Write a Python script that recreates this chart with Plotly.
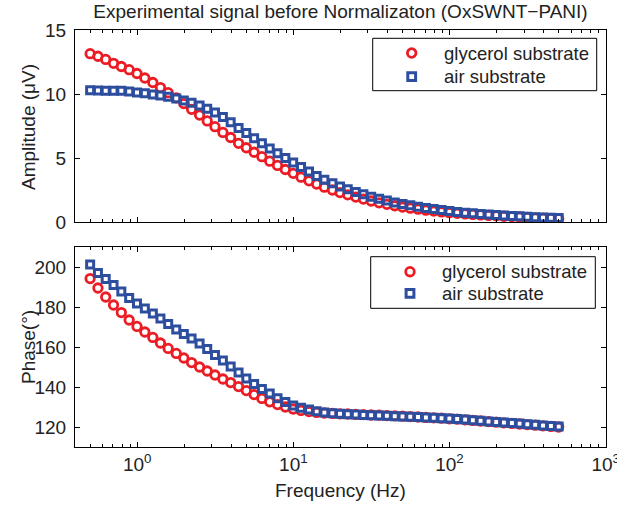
import math
import plotly.graph_objects as go

# ---------------- data ----------------
freq = [0.5, 0.561, 0.629, 0.706, 0.792, 0.889, 0.998, 1.12, 1.26, 1.41,
        1.58, 1.78, 1.99, 2.23, 2.51, 2.81, 3.15, 3.54, 3.97, 4.46,
        5.0, 5.61, 6.29, 7.06, 7.92, 8.89, 9.98, 11.2, 12.6, 14.1,
        15.8, 17.8, 19.9, 22.3, 25.1, 28.1, 31.5, 35.4, 39.7, 44.6,
        50.0, 56.1, 62.9, 70.6, 79.2, 88.9, 99.8, 112, 126, 141,
        158, 178, 199, 223, 251, 281, 315, 354, 397, 446, 500]

amp_glycerol = [13.15, 12.95, 12.7, 12.4, 12.15, 11.9, 11.6, 11.25, 10.9, 10.5,
                10.1, 9.7, 9.25, 8.8, 8.35, 7.9, 7.45, 7.0, 6.6, 6.15,
                5.8, 5.45, 5.1, 4.75, 4.42, 4.1, 3.8, 3.5, 3.22, 2.96,
                2.72, 2.5, 2.3, 2.12, 1.95, 1.79, 1.64, 1.5, 1.38, 1.27,
                1.17, 1.08, 1.0, 0.92, 0.85, 0.79, 0.73, 0.68, 0.63, 0.59,
                0.55, 0.51, 0.48, 0.45, 0.42, 0.39, 0.36, 0.33, 0.31, 0.28, 0.26]

amp_air = [10.3, 10.28, 10.26, 10.26, 10.25, 10.2, 10.12, 10.05, 9.97, 9.88,
           9.78, 9.65, 9.5, 9.32, 9.1, 8.85, 8.55, 8.2, 7.8, 7.35,
           6.95, 6.55, 6.15, 5.75, 5.38, 5.0, 4.65, 4.3, 3.95, 3.6,
           3.3, 3.02, 2.78, 2.56, 2.35, 2.16, 1.98, 1.82, 1.67, 1.53,
           1.41, 1.3, 1.19, 1.1, 1.01, 0.93, 0.86, 0.79, 0.73, 0.68,
           0.63, 0.58, 0.54, 0.5, 0.47, 0.44, 0.41, 0.38, 0.35, 0.33, 0.31]

phase_glycerol = [194.2, 189.5, 185.0, 181.0, 177.2, 173.5, 170.3, 167.5, 164.8, 162.0,
                  159.3, 156.8, 154.5, 152.2, 150.0, 148.0, 146.0, 144.0, 142.2, 140.2,
                  138.2, 136.2, 134.3, 132.6, 131.2, 130.0, 129.0, 128.3, 127.7, 127.3,
                  127.0, 126.8, 126.6, 126.5, 126.3, 126.2, 126.0, 125.9, 125.7, 125.6,
                  125.4, 125.2, 125.0, 124.8, 124.6, 124.4, 124.1, 123.9, 123.6, 123.3,
                  123.0, 122.7, 122.4, 122.1, 121.8, 121.5, 121.2, 120.9, 120.6, 120.3, 120.0]

phase_air = [201.3, 197.0, 194.0, 191.0, 187.7, 184.5, 181.8, 179.2, 176.7, 174.2,
             171.5, 168.8, 166.5, 164.2, 161.7, 159.0, 156.0, 153.2, 150.2, 147.2,
             144.2, 141.5, 139.0, 136.7, 134.4, 132.5, 130.8, 129.6, 128.7, 127.9,
             127.3, 126.9, 126.6, 126.4, 126.2, 126.0, 125.9, 125.7, 125.6, 125.4,
             125.3, 125.1, 125.0, 124.8, 124.6, 124.4, 124.2, 124.0, 123.7, 123.4,
             123.1, 122.8, 122.5, 122.3, 122.0, 121.7, 121.4, 121.1, 120.8, 120.5, 120.3]

x_tickvals = [1, 10, 100, 1000]
x_ticktext = ["10<sup>0</sup>", "10<sup>1</sup>", "10<sup>2</sup>", "10<sup>3</sup>"]
amp_ticks = [0, 5, 10, 15]
phase_ticks = [120, 140, 160, 180, 200]

series_names = ["glycerol substrate", "air substrate"]
title_text = "Experimental signal before Normalizaton (OxSWNT\u2212PANI)"

# ---------------- style ----------------
RED = "#EC1C24"
BLUE = "#2D4E9F"
TXT = "#222222"
FONT = "Liberation Sans, Arial, Helvetica, sans-serif"
FS = 19

# plot area in pixels
L, R, T, B = 75, 606, 30, 447
W_PA, H_PA = R - L, B - T


def px(xp):
    return (xp - L) / W_PA


def py(yp):
    return (B - yp) / H_PA


red_marker = dict(symbol="circle-open", size=8.5, color=RED, line=dict(width=2.8, color=RED))
blue_marker = dict(symbol="square-open", size=7, color=BLUE, line=dict(width=3, color=BLUE))

fig = go.Figure()
fig.add_trace(go.Scatter(x=freq, y=amp_glycerol, mode="markers", name=series_names[0],
                         marker=red_marker, xaxis="x", yaxis="y"))
fig.add_trace(go.Scatter(x=freq, y=amp_air, mode="markers", name=series_names[1],
                         marker=blue_marker, xaxis="x", yaxis="y"))
fig.add_trace(go.Scatter(x=freq, y=phase_glycerol, mode="markers", name=series_names[0],
                         marker=red_marker, xaxis="x2", yaxis="y2"))
fig.add_trace(go.Scatter(x=freq, y=phase_air, mode="markers", name=series_names[1],
                         marker=blue_marker, xaxis="x2", yaxis="y2"))

common_axis = dict(showline=True, linecolor="black", linewidth=1, mirror="allticks",
                   ticks="inside", ticklen=5, tickcolor="black", showgrid=False,
                   zeroline=False, automargin=False,
                   tickfont=dict(size=FS, family=FONT, color=TXT))
minor = dict(ticks="inside", ticklen=3, tickcolor="black", dtick="D1", showgrid=False)

xrange = [math.log10(0.4), 3.002]

fig.update_layout(
    width=617, height=508,
    margin=dict(l=L, r=617 - R, t=T, b=508 - B, autoexpand=False),
    paper_bgcolor="white", plot_bgcolor="white",
    font=dict(family=FONT, size=FS, color=TXT),
    showlegend=False,
    title=dict(text=title_text, x=0.5, xref="paper", xanchor="center",
               y=1 - 11 / 508, yref="container", yanchor="middle",
               font=dict(size=FS, family=FONT, color=TXT)),
    xaxis=dict(type="log", range=xrange, domain=[0, 1], anchor="y",
               tickvals=x_tickvals, showticklabels=False, minor=minor, **common_axis),
    yaxis=dict(domain=[py(222), 1], range=[0, 15], tickvals=amp_ticks, anchor="x",
               ticklabelstandoff=4, **common_axis),
    xaxis2=dict(type="log", range=xrange, domain=[0, 1], anchor="y2",
                tickvals=x_tickvals, ticktext=x_ticktext, minor=minor,
                ticklabeloverflow="allow", **common_axis),
    yaxis2=dict(domain=[0, py(247)], range=[110, 210], tickvals=phase_ticks, anchor="x2",
                ticklabelstandoff=4, **common_axis),
)

# axis titles
fig.add_annotation(text="Amplitude (\u03bcV)", xref="paper", yref="paper",
                   x=px(28), y=py(127), textangle=-90,
                   showarrow=False, xanchor="center", yanchor="middle",
                   font=dict(size=FS, family=FONT, color=TXT))
fig.add_annotation(text="Phase(\u00b0)", xref="paper", yref="paper",
                   x=px(28), y=py(347), textangle=-90,
                   showarrow=False, xanchor="center", yanchor="middle",
                   font=dict(size=FS, family=FONT, color=TXT))
fig.add_annotation(text="Frequency (Hz)", xref="paper", yref="paper",
                   x=0.5, y=py(490),
                   showarrow=False, xanchor="center", yanchor="middle",
                   font=dict(size=FS, family=FONT, color=TXT))


# legends (MATLAB-style boxed legend drawn as layout shapes + text)
def add_legend(box, key_x, row_y, text_x):
    x0, y0, x1, y1 = box
    fig.add_shape(type="rect", xref="paper", yref="paper",
                  x0=px(x0), x1=px(x1), y0=py(y1), y1=py(y0),
                  line=dict(color="black", width=1), fillcolor="white", layer="above")
    rc, rs = 4.3, 3.9
    fig.add_shape(type="circle", xref="paper", yref="paper",
                  x0=px(key_x - rc), x1=px(key_x + rc),
                  y0=py(row_y[0] + rc), y1=py(row_y[0] - rc),
                  line=dict(color=RED, width=2.8), layer="above")
    fig.add_shape(type="rect", xref="paper", yref="paper",
                  x0=px(key_x - rs), x1=px(key_x + rs),
                  y0=py(row_y[1] + rs), y1=py(row_y[1] - rs),
                  line=dict(color=BLUE, width=3), layer="above")
    for name, yy in zip(series_names, row_y):
        fig.add_annotation(text=name, xref="paper", yref="paper",
                           x=px(text_x), y=py(yy), xanchor="left", yanchor="middle",
                           showarrow=False, font=dict(size=FS - 0.5, family=FONT, color=TXT))


add_legend((372.7, 38.3, 596.7, 90.7), 411.7, (53.0, 76.7), 442)
add_legend((370.7, 256.7, 595.3, 308.3), 410.0, (271.7, 293.3), 440)

# remove the browser's default page margin so the figure sits at the window origin
post_js = "document.body.style.margin='0';document.body.style.overflow='hidden';"
fig.write_html("out.html", post_script=post_js, config={"displayModeBar": False})
